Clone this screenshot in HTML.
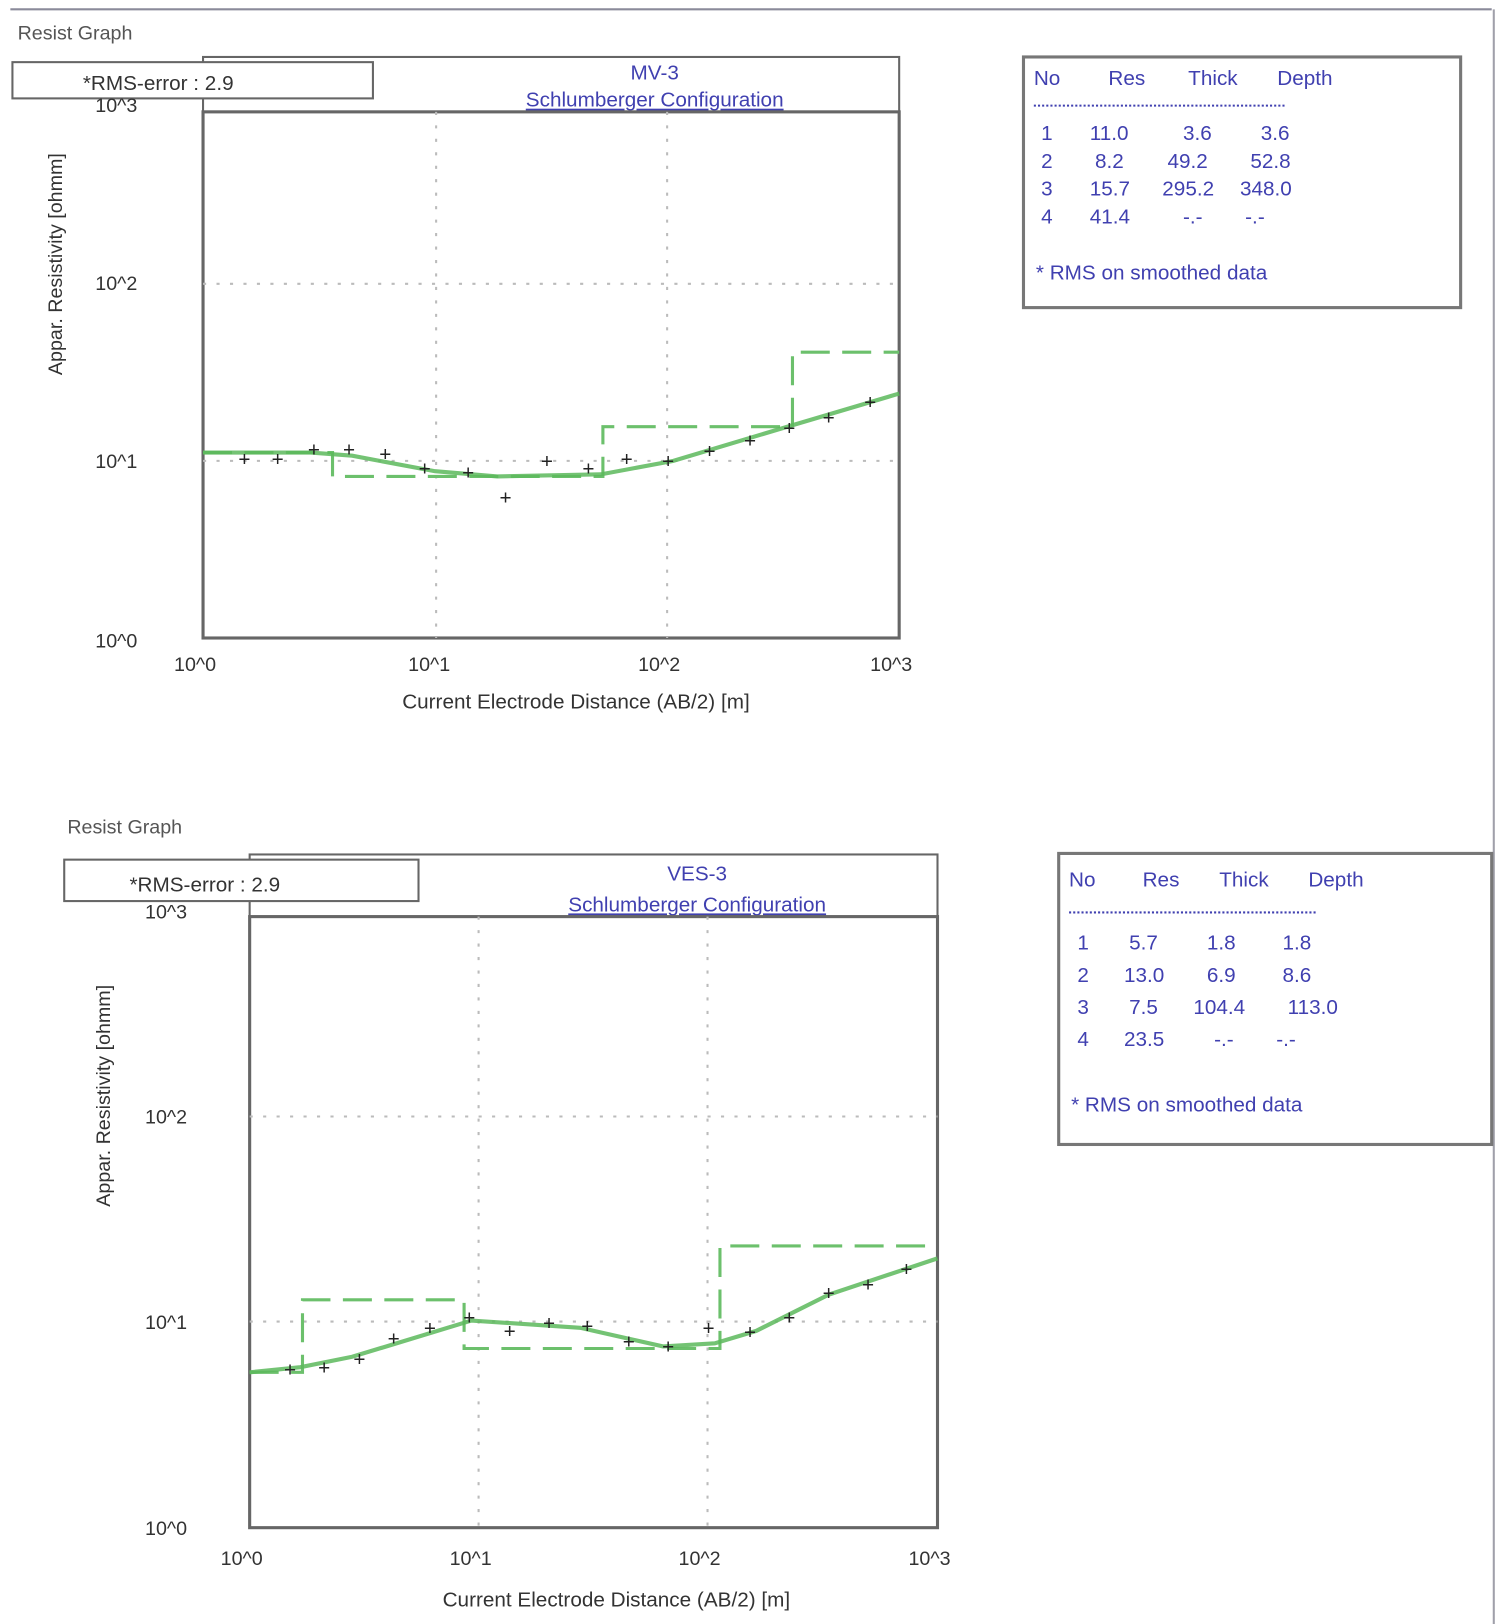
<!DOCTYPE html>
<html><head><meta charset="utf-8"><style>
body{margin:0;background:#fff;}
svg{display:block;font-family:"Liberation Sans",sans-serif;}
</style></head><body>
<svg width="1500" height="1624" viewBox="0 0 1448 1568" preserveAspectRatio="none" xmlns="http://www.w3.org/2000/svg">
<rect width="1448" height="1568" fill="#fff"/>
<line x1="10" y1="9" x2="1440" y2="9" stroke="#8a8a9a" stroke-width="2"/>
<line x1="1442" y1="9" x2="1442" y2="1568" stroke="#a0a0aa" stroke-width="2"/>

<!-- TOP -->
<text x="17" y="38" font-size="19" fill="#555">Resist Graph</text>
<rect x="196" y="55" width="672" height="53" fill="#fff" stroke="#666" stroke-width="2"/>
<rect x="12" y="60" width="348" height="35" fill="#fff" stroke="#666" stroke-width="2"/>
<text x="80" y="87" font-size="20" fill="#333">*RMS-error :  2.9</text>
<text x="632" y="77" font-size="20" fill="#4040b0" text-anchor="middle">MV-3</text>
<text x="632" y="103" font-size="20" fill="#4040b0" text-anchor="middle" text-decoration="underline">Schlumberger Configuration</text>
<rect x="196" y="108" width="672" height="508" fill="none" stroke="#666" stroke-width="3"/>
<g stroke="#bbb" stroke-width="2" stroke-dasharray="3,10">
<line x1="421" y1="108" x2="421" y2="616"/><line x1="644" y1="108" x2="644" y2="616"/>
<line x1="196" y1="274" x2="868" y2="274"/><line x1="196" y1="445" x2="868" y2="445"/>
</g>
<g font-size="19" fill="#333">
<text x="92" y="108">10^3</text><text x="92" y="280">10^2</text><text x="92" y="452">10^1</text><text x="92" y="625">10^0</text>
<text x="168" y="648">10^0</text><text x="394" y="648">10^1</text><text x="616" y="648">10^2</text><text x="840" y="648">10^3</text>
<text x="556" y="684" text-anchor="middle" font-size="20">Current Electrode Distance (AB/2) [m]</text>
<text transform="translate(60,255) rotate(-90)" text-anchor="middle" font-size="19">Appar. Resistivity [ohmm]</text>
</g>
<path d="M196,437 L321,437 L321,460 L582,460 L582,412 L765,412 L765,340 L868,340" fill="none" stroke="#6cc06c" stroke-width="3" stroke-dasharray="28,12"/>
<path d="M196,437 L300,437 L340,440 L420,455 L480,460 L580,458 L650,445 L760,412 L868,380" fill="none" stroke="#5cb85c" stroke-width="4" opacity="0.85"/>
<g fill="#222" font-size="20" text-anchor="middle">
<text x="236" y="450">+</text><text x="268" y="450">+</text><text x="303" y="441">+</text><text x="337" y="441">+</text><text x="372" y="445">+</text><text x="410" y="459">+</text><text x="452" y="463">+</text><text x="488" y="487">+</text><text x="528" y="452">+</text><text x="568" y="459">+</text><text x="605" y="450">+</text><text x="645" y="452">+</text><text x="685" y="442">+</text><text x="724" y="432">+</text><text x="762" y="420">+</text><text x="800" y="410">+</text><text x="840" y="395">+</text>
</g>
<rect x="988" y="55" width="422" height="242" fill="#fff" stroke="#777" stroke-width="3"/>
<g font-size="20" fill="#4040b0">
<text x="998" y="82">No</text><text x="1070" y="82">Res</text><text x="1147" y="82">Thick</text><text x="1233" y="82">Depth</text>
<line x1="998" y1="102" x2="1240" y2="102" stroke="#4040b0" stroke-width="2" stroke-dasharray="2,2"/>
<text x="1005" y="135">1</text><text x="1052" y="135">11.0</text><text x="1142" y="135">3.6</text><text x="1217" y="135">3.6</text>
<text x="1005" y="162">2</text><text x="1057" y="162">8.2</text><text x="1127" y="162">49.2</text><text x="1207" y="162">52.8</text>
<text x="1005" y="189">3</text><text x="1052" y="189">15.7</text><text x="1122" y="189">295.2</text><text x="1197" y="189">348.0</text>
<text x="1005" y="216">4</text><text x="1052" y="216">41.4</text><text x="1142" y="216">-.-</text><text x="1202" y="216">-.-</text>
<text x="1000" y="270">* RMS on smoothed data</text>
</g>

<!-- BOTTOM -->
<text x="65" y="805" font-size="19" fill="#555">Resist Graph</text>
<rect x="241" y="825" width="664" height="60" fill="#fff" stroke="#666" stroke-width="2"/>
<rect x="62" y="830" width="342" height="40" fill="#fff" stroke="#666" stroke-width="2"/>
<text x="125" y="861" font-size="20" fill="#333">*RMS-error :  2.9</text>
<text x="673" y="850" font-size="20" fill="#4040b0" text-anchor="middle">VES-3</text>
<text x="673" y="880" font-size="20" fill="#4040b0" text-anchor="middle" text-decoration="underline">Schlumberger Configuration</text>
<rect x="241" y="885" width="664" height="590" fill="none" stroke="#666" stroke-width="3"/>
<g stroke="#bbb" stroke-width="2" stroke-dasharray="3,10">
<line x1="462" y1="885" x2="462" y2="1475"/><line x1="683" y1="885" x2="683" y2="1475"/>
<line x1="241" y1="1078" x2="905" y2="1078"/><line x1="241" y1="1276" x2="905" y2="1276"/>
</g>
<g font-size="19" fill="#333">
<text x="140" y="887">10^3</text><text x="140" y="1085">10^2</text><text x="140" y="1283">10^1</text><text x="140" y="1482">10^0</text>
<text x="213" y="1511">10^0</text><text x="434" y="1511">10^1</text><text x="655" y="1511">10^2</text><text x="877" y="1511">10^3</text>
<text x="595" y="1551" text-anchor="middle" font-size="20">Current Electrode Distance (AB/2) [m]</text>
<text transform="translate(106,1058) rotate(-90)" text-anchor="middle" font-size="19">Appar. Resistivity [ohmm]</text>
</g>
<path d="M241,1325 L292,1325 L292,1255 L448,1255 L448,1302 L695,1302 L695,1203 L905,1203" fill="none" stroke="#6cc06c" stroke-width="3" stroke-dasharray="28,12"/>
<path d="M241,1325 L290,1320 L340,1310 L455,1275 L560,1282 L640,1300 L690,1297 L730,1285 L800,1250 L905,1215" fill="none" stroke="#5cb85c" stroke-width="4" opacity="0.85"/>
<g fill="#222" font-size="20" text-anchor="middle">
<text x="280" y="1329">+</text><text x="313" y="1327">+</text><text x="347" y="1319">+</text><text x="380" y="1299">+</text><text x="415" y="1289">+</text><text x="453" y="1279">+</text><text x="492" y="1292">+</text><text x="530" y="1284">+</text><text x="567" y="1287">+</text><text x="607" y="1302">+</text><text x="645" y="1307">+</text><text x="684" y="1289">+</text><text x="724" y="1293">+</text><text x="762" y="1279">+</text><text x="800" y="1255">+</text><text x="838" y="1247">+</text><text x="875" y="1232">+</text>
</g>
<rect x="1022" y="824" width="418" height="281" fill="#fff" stroke="#777" stroke-width="3"/>
<g font-size="20" fill="#4040b0">
<text x="1032" y="856">No</text><text x="1103" y="856">Res</text><text x="1177" y="856">Thick</text><text x="1263" y="856">Depth</text>
<line x1="1032" y1="881" x2="1272" y2="881" stroke="#4040b0" stroke-width="2" stroke-dasharray="2,2"/>
<text x="1040" y="917">1</text><text x="1090" y="917">5.7</text><text x="1165" y="917">1.8</text><text x="1238" y="917">1.8</text>
<text x="1040" y="948">2</text><text x="1085" y="948">13.0</text><text x="1165" y="948">6.9</text><text x="1238" y="948">8.6</text>
<text x="1040" y="979">3</text><text x="1090" y="979">7.5</text><text x="1152" y="979">104.4</text><text x="1243" y="979">113.0</text>
<text x="1040" y="1010">4</text><text x="1085" y="1010">23.5</text><text x="1172" y="1010">-.-</text><text x="1232" y="1010">-.-</text>
<text x="1034" y="1073">* RMS on smoothed data</text>
</g>
</svg>
</body></html>
